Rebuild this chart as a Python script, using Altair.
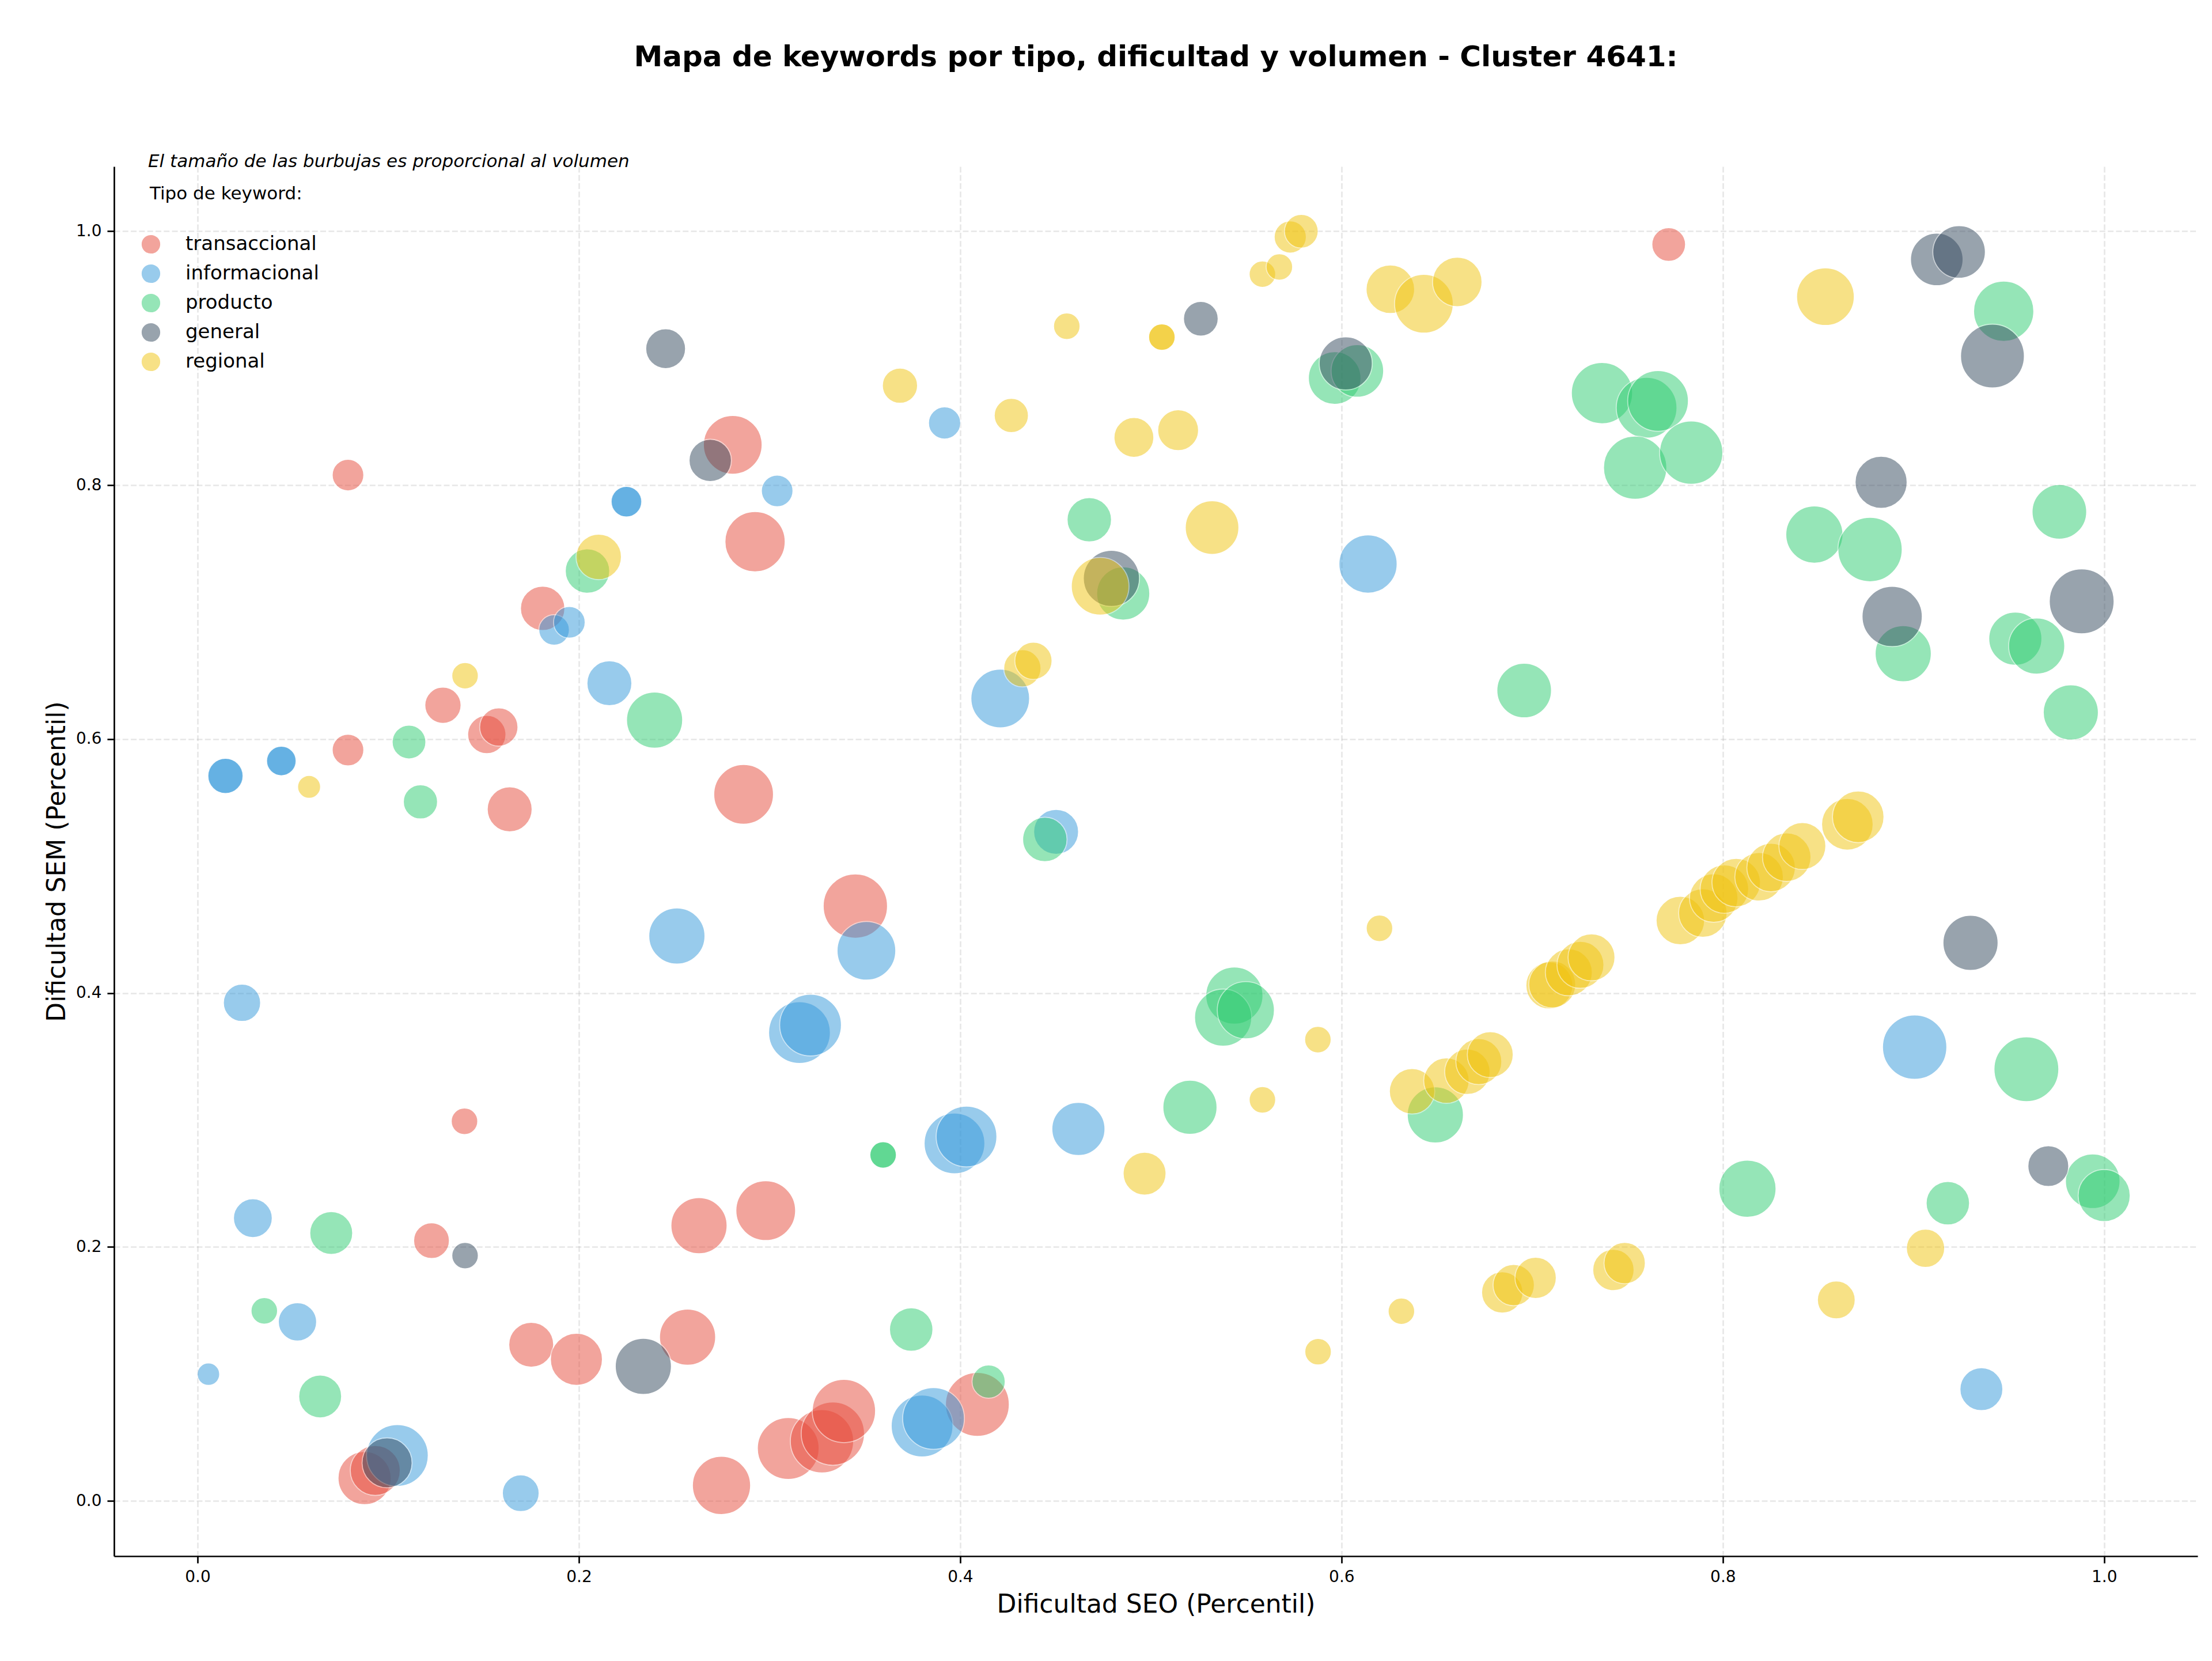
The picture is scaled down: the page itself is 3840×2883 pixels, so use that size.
import altair as alt
import pandas as pd

# Keyword types, legend order and colours
tipos = ["transaccional", "informacional", "producto", "general", "regional"]
colores = ["#e74c3c", "#3498db", "#2ecc71", "#34495e", "#f1c40f"]

# Each keyword: SEO difficulty percentile, SEM difficulty percentile, search volume
trans_seo = [0.0789, 0.0789, 0.1287, 0.1517, 0.1580, 0.1637, 0.1810, 0.2807, 0.2924, 0.2864,
             0.3450, 0.7716, 0.1400, 0.1227, 0.1750, 0.1987, 0.2630, 0.2980, 0.2570, 0.2748,
             0.3098, 0.3275, 0.3332, 0.3390, 0.4090, 0.0876, 0.0932]
trans_sem = [0.808, 0.5914, 0.6267, 0.6036, 0.6095, 0.5447, 0.703, 0.8318, 0.7555, 0.5565,
             0.4685, 0.9896, 0.299, 0.205, 0.123, 0.1115, 0.2168, 0.2286, 0.129, 0.0122,
             0.0413, 0.047, 0.053, 0.0708, 0.076, 0.018, 0.024]
trans_vol = [384, 384, 504, 563, 563, 774, 757, 1323, 1392, 1369,
             1588, 436, 270, 490, 774, 1040, 1210, 1369, 1210, 1300,
             1464, 1538, 1538, 1538, 1563, 1082, 960]

info_seo = [0.2248, 0.2250, 0.0145, 0.0147, 0.0438, 0.0440, 0.2160, 0.1870, 0.1950, 0.3040,
            0.3918, 0.0233, 0.2514, 0.3508, 0.3157, 0.3215, 0.4210, 0.4503, 0.6139, 0.3800,
            0.3860, 0.3970, 0.4033, 0.4620, 0.1048, 0.0290, 0.0524, 0.0057, 0.1695, 0.9006,
            0.9356]
info_sem = [0.787, 0.787, 0.571, 0.571, 0.5828, 0.5828, 0.644, 0.686, 0.692, 0.7955,
            0.849, 0.3923, 0.4449, 0.4333, 0.3689, 0.3748, 0.632, 0.527, 0.7379, 0.059,
            0.065, 0.2816, 0.287, 0.293, 0.0358, 0.2227, 0.141, 0.0998, 0.0061, 0.3574,
            0.088]
info_vol = [360, 360, 476, 476, 336, 336, 774, 360, 384, 384,
            397, 533, 1210, 1323, 1464, 1464, 1323, 774, 1300, 1464,
            1464, 1416, 1416, 1082, 1464, 578, 563, 194, 518, 1588,
            706]

prod_seo = [0.1109, 0.1169, 0.2045, 0.2397, 0.4444, 0.4677, 0.4855, 0.5964, 0.6083, 0.7366,
            0.7600, 0.7660, 0.7540, 0.7834, 0.9473, 0.8480, 0.8772, 0.9765, 0.8946, 0.9534,
            0.9646, 0.9825, 0.6958, 0.5438, 0.5379, 0.5498, 0.5205, 0.6492, 0.9592, 0.8129,
            0.9180, 0.9940, 1.0000, 0.0701, 0.0350, 0.0643, 0.3743, 0.4149, 0.3595, 0.3596]
prod_sem = [0.5977, 0.5506, 0.7324, 0.615, 0.521, 0.7728, 0.7147, 0.8844, 0.890, 0.8725,
            0.861, 0.8664, 0.8138, 0.8256, 0.937, 0.7611, 0.7493, 0.779, 0.6673, 0.6791,
            0.6733, 0.621, 0.6383, 0.398, 0.3807, 0.3865, 0.310, 0.304, 0.340, 0.2459,
            0.2345, 0.2518, 0.2405, 0.211, 0.1497, 0.0823, 0.135, 0.094, 0.2725, 0.2725]
prod_vol = [436, 449, 757, 1210, 757, 757, 1082, 1061, 1061, 1440,
            1416, 1416, 1538, 1538, 1392, 1254, 1588, 1145, 1210, 1082,
            1210, 1166, 1145, 1254, 1254, 1254, 1124, 1210, 1613, 1254,
            723, 1145, 1040, 706, 270, 706, 723, 423, 270, 270]

gen_seo = [0.2455, 0.2689, 0.6022, 0.4793, 0.5262, 0.9122, 0.9239, 0.9414, 0.8830, 0.8888,
           0.9882, 0.9299, 0.9707, 0.1403, 0.2338, 0.0994]
gen_sem = [0.9075, 0.8195, 0.8959, 0.7266, 0.9311, 0.9778, 0.9837, 0.9017, 0.8023, 0.6966,
           0.7085, 0.4395, 0.2637, 0.1932, 0.106, 0.030]
gen_vol = [608, 689, 1082, 1210, 462, 1061, 1061, 1563, 1040, 1392,
           1613, 1166, 640, 270, 1210, 960]

reg_seo = [0.1403, 0.0585, 0.2104, 0.3684, 0.4268, 0.4559, 0.4911, 0.5057, 0.5058, 0.5585,
           0.5674, 0.5731, 0.5789, 0.6256, 0.6432, 0.6607, 0.5143, 0.5321, 0.8538, 0.6199,
           0.5876, 0.5585, 0.4967, 0.5877, 0.6314, 0.6843, 0.6903, 0.7018, 0.7426, 0.7485,
           0.8595, 0.9063, 0.4326, 0.4384, 0.4734,
           0.6370, 0.6550, 0.6660, 0.6720, 0.6780,
           0.7090, 0.7105, 0.7192, 0.7253, 0.7311,
           0.7777, 0.7895, 0.7952, 0.8008, 0.8070, 0.8190, 0.8253, 0.8335, 0.8417, 0.8653,
           0.8710]
reg_sem = [0.6499, 0.5624, 0.7435, 0.8784, 0.8549, 0.9252, 0.8376, 0.9166, 0.9166, 0.9662,
           0.9719, 0.9955, 1.000, 0.9543, 0.9429, 0.9601, 0.8433, 0.7666, 0.9485, 0.451,
           0.3633, 0.3159, 0.2578, 0.1175, 0.1494, 0.1642, 0.170, 0.1757, 0.1819, 0.1873,
           0.1583, 0.199, 0.6558, 0.6617, 0.7204,
           0.3226, 0.331, 0.338, 0.346, 0.3515,
           0.406, 0.4068, 0.4163, 0.4222, 0.4281,
           0.4571, 0.463, 0.4748, 0.4819, 0.487, 0.4916, 0.4989, 0.507, 0.5158, 0.5329,
           0.5388]
reg_vol = [270, 203, 792, 476, 449, 270, 608, 270, 270, 270,
           270, 397, 436, 903, 1323, 941, 640, 1103, 1277, 270,
           270, 270, 706, 270, 270, 656, 656, 656, 656, 656,
           548, 563, 533, 533, 1277,
           792, 792, 792, 810, 810,
           846, 846, 846, 846, 846,
           903, 903, 903, 903, 903, 903, 903, 903, 846, 1020,
           1020]

series = {
    "transaccional": (trans_seo, trans_sem, trans_vol),
    "informacional": (info_seo, info_sem, info_vol),
    "producto": (prod_seo, prod_sem, prod_vol),
    "general": (gen_seo, gen_sem, gen_vol),
    "regional": (reg_seo, reg_sem, reg_vol),
}

rows = []
for t in tipos:
    seo, sem, vol = series[t]
    for a, b, v in zip(seo, sem, vol):
        rows.append({"tipo": t, "seo": a, "sem": b, "volumen": v, "orden": len(rows)})
df = pd.DataFrame(rows)

FONT = "DejaVu Sans"
ticks = [0.0, 0.2, 0.4, 0.6, 0.8, 1.0]

bubbles = alt.Chart(df).mark_circle(
    opacity=0.5, stroke="white", strokeWidth=1.7
).encode(
    x=alt.X("seo:Q",
            scale=alt.Scale(domain=[-0.0438, 1.049], nice=False, zero=False),
            axis=alt.Axis(values=ticks, format=".1f", title="Dificultad SEO (Percentil)")),
    y=alt.Y("sem:Q",
            scale=alt.Scale(domain=[-0.0435, 1.051], nice=False, zero=False),
            axis=alt.Axis(values=ticks, format=".1f", title="Dificultad SEM (Percentil)")),
    color=alt.Color("tipo:N",
                    scale=alt.Scale(domain=tipos, range=colores),
                    sort=tipos,
                    legend=alt.Legend(title=None, orient="none", legendX=46, legendY=117,
                                      symbolType="circle", symbolSize=1150,
                                      symbolOpacity=0.5, symbolStrokeColor="white",
                                      symbolStrokeWidth=1.7,
                                      labelFontSize=34, labelFont=FONT, labelColor="black",
                                      labelLimit=600, labelOffset=42, rowPadding=9)),
    size=alt.Size("volumen:Q", scale=alt.Scale(domain=[0, 2000], range=[0, 15708]), legend=None),
    order=alt.Order("orden:Q"),
)

nota = alt.Chart(pd.DataFrame({"t": ["El tamaño de las burbujas es proporcional al volumen"]})).mark_text(
    align="left", baseline="alphabetic", fontSize=31, fontStyle="italic", font=FONT, color="black"
).encode(text="t:N", x=alt.value(59), y=alt.value(1))

leyenda_titulo = alt.Chart(pd.DataFrame({"t": ["Tipo de keyword:"]})).mark_text(
    align="left", baseline="alphabetic", fontSize=31, font=FONT, color="black"
).encode(text="t:N", x=alt.value(62), y=alt.value(57))

chart = alt.layer(bubbles, nota, leyenda_titulo).properties(
    width=3617,
    height=2412,
    background="white",
    title=alt.TitleParams(
        text="Mapa de keywords por tipo, dificultad y volumen - Cluster 4641:",
        fontSize=50, fontWeight="bold", font=FONT, color="black",
        anchor="middle", offset=140,
    ),
    autosize=alt.AutoSizeParams(type="none"),
    padding={"left": 198, "top": 289, "right": 25, "bottom": 182},
).configure_view(
    stroke=None
).configure_axis(
    domainColor="black", domainWidth=2.7,
    tickColor="black", tickWidth=2.7, tickSize=12,
    labelFontSize=28, labelFont=FONT, labelColor="black", labelPadding=10,
    titleFontSize=44, titleFont=FONT, titleFontWeight="normal", titleColor="black",
    gridColor="#b0b0b0", gridOpacity=0.3, gridWidth=2.7, gridDash=[10, 4.3],
    labelFlush=False,
).configure_axisX(
    titlePadding=12
).configure_axisY(
    titlePadding=10
)

chart.save("out.html", embed_options={"renderer": "svg", "actions": False})
